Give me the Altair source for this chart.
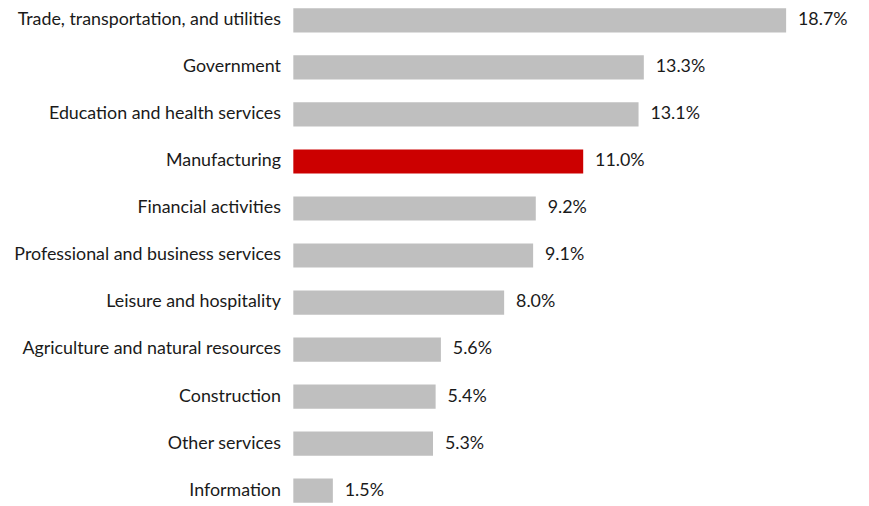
import altair as alt
import pandas as pd

categories = [
    "Trade, transportation, and utilities",
    "Government",
    "Education and health services",
    "Manufacturing",
    "Financial activities",
    "Professional and business services",
    "Leisure and hospitality",
    "Agriculture and natural resources",
    "Construction",
    "Other services",
    "Information",
]
values = [18.7, 13.3, 13.1, 11.0, 9.2, 9.1, 8.0, 5.6, 5.4, 5.3, 1.5]
highlight = "Manufacturing"

df = pd.DataFrame({"category": categories, "value": values})
df["label"] = df["value"].map(lambda v: f"{v:.1f}%")
df["hl"] = df["category"].eq(highlight).map({True: "yes", False: "no"})

FONT = "Lato"
FS = 18

y = alt.Y(
    "category:N",
    sort=categories,
    scale=alt.Scale(range=[-13.5, 508.5], paddingInner=0.485, paddingOuter=0.2425),
    axis=alt.Axis(
        title=None, domain=False, ticks=False, labelPadding=13,
        labelFont=FONT, labelFontSize=FS, labelColor="#1a1a1a", labelLimit=400,
    ),
)
x = alt.X("value:Q", scale=alt.Scale(domain=[0, 20], nice=False, zero=True), axis=None)

bars = alt.Chart(df).mark_bar().encode(
    x=x, y=y,
    color=alt.Color("hl:N", scale=alt.Scale(domain=["yes", "no"], range=["#CC0000", "#BFBFBF"]), legend=None),
)
text = alt.Chart(df).mark_text(align="left", baseline="middle", dx=12, font=FONT, fontSize=FS, color="#1a1a1a").encode(
    x=x, y=y, text="label:N"
)

chart = (bars + text).properties(
    width=532, height=498,
    autosize=alt.AutoSizeParams(type="none"),
    padding={"left": 288, "top": 0, "right": 41, "bottom": 0},
).configure_view(stroke=None)

chart.save("out.html", embed_options={"renderer": "svg", "actions": False})
